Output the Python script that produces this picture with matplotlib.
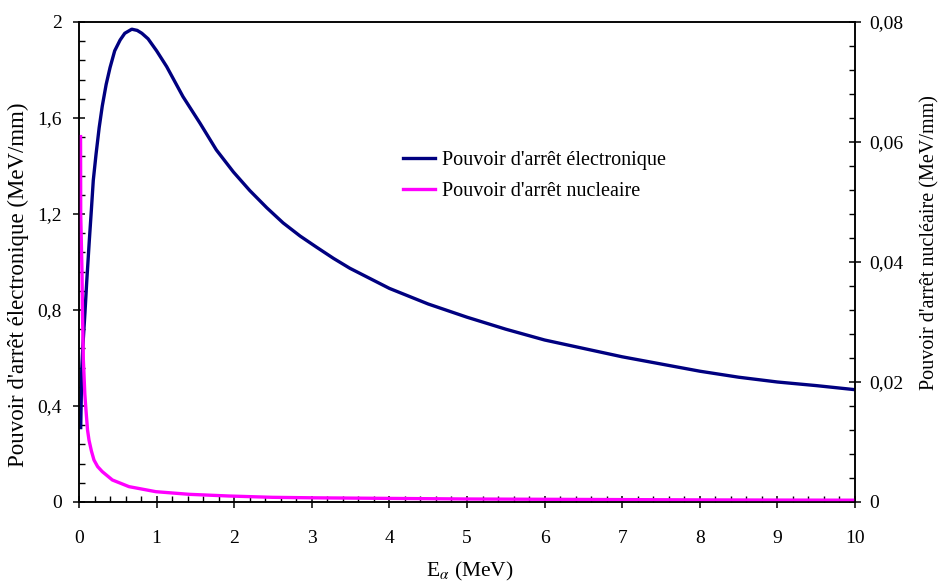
import matplotlib
matplotlib.use("Agg")
import matplotlib.pyplot as plt
from matplotlib.ticker import MultipleLocator, FixedLocator, FixedFormatter

# ---- data ----
x_elec = [0.022, 0.03, 0.035, 0.05, 0.077, 0.1, 0.133, 0.16, 0.184, 0.22, 0.26, 0.30,
          0.35, 0.40, 0.46, 0.53, 0.59, 0.68, 0.75, 0.81, 0.89, 1.0, 1.13, 1.34,
          1.56, 1.77, 1.99, 2.2, 2.42, 2.63, 2.85, 3.06, 3.28, 3.49, 4.0, 4.5, 5.0,
          5.5, 6.0, 6.5, 7.0, 7.5, 8.0, 8.5, 9.0, 9.5, 10.0]
y_elec = [0.31, 0.45, 0.55, 0.65, 0.79, 0.92, 1.09, 1.22, 1.34, 1.45, 1.56, 1.65,
          1.74, 1.81, 1.88, 1.925, 1.953, 1.97, 1.965, 1.953, 1.93, 1.88, 1.814, 1.689,
          1.578, 1.467, 1.375, 1.298, 1.226, 1.163, 1.108, 1.062, 1.015, 0.974, 0.89, 0.825, 0.77,
          0.72, 0.675, 0.64, 0.605, 0.575, 0.545, 0.52, 0.50, 0.485, 0.468]

x_nucl = [0.02, 0.022, 0.039, 0.045, 0.056, 0.075, 0.09, 0.11, 0.129, 0.16, 0.193,
          0.24, 0.30, 0.43, 0.644, 0.99, 1.42, 1.93, 2.49, 3.0, 4.0, 5.0, 6.0, 7.0,
          8.0, 9.0, 10.0]
y_nucl = [0.0609, 0.048, 0.0381, 0.0314, 0.0237, 0.018, 0.0153, 0.012, 0.0103, 0.0085,
          0.007, 0.0059, 0.00506, 0.00367, 0.00256, 0.00172, 0.00128, 0.0010, 0.00078,
          0.0007, 0.0006, 0.0005, 0.00045, 0.0004, 0.00035, 0.00032, 0.0003]

left_ticks = [0, 0.4, 0.8, 1.2, 1.6, 2.0]
left_labels = ["0", "0,4", "0,8", "1,2", "1,6", "2"]
right_ticks = [0, 0.02, 0.04, 0.06, 0.08]
right_labels = ["0", "0,02", "0,04", "0,06", "0,08"]
x_ticks = list(range(0, 11))
x_labels = [str(v) for v in x_ticks]

plt.rcParams['font.family'] = ['Liberation Serif', 'DejaVu Serif']
plt.rcParams['mathtext.fontset'] = 'stix'

W, H = 943, 584
fig = plt.figure(figsize=(W/100, H/100), dpi=100)
ax = fig.add_axes([79/W, 1-502/H, (855-79)/W, (502-22)/H])
ax2 = ax.twinx()

l1, = ax.plot(x_elec, y_elec, color='#000080', lw=2.4, label="Pouvoir d'arrêt électronique")
l2, = ax2.plot(x_nucl, y_nucl, color='#FF00FF', lw=2.4, label="Pouvoir d'arrêt nucleaire")

ax.set_xlim(0, 10)
ax.set_ylim(0, 2)
ax2.set_ylim(0, 0.08)

fs = 14
ax.xaxis.set_major_locator(FixedLocator(x_ticks))
ax.xaxis.set_major_formatter(FixedFormatter(x_labels))
ax.xaxis.set_minor_locator(MultipleLocator(0.2))
ax.yaxis.set_major_locator(FixedLocator(left_ticks))
ax.yaxis.set_major_formatter(FixedFormatter(left_labels))
ax.yaxis.set_minor_locator(MultipleLocator(0.08))
ax2.yaxis.set_major_locator(FixedLocator(right_ticks))
ax2.yaxis.set_major_formatter(FixedFormatter(right_labels))
ax2.yaxis.set_minor_locator(MultipleLocator(0.004))

for a in (ax, ax2):
    for s in a.spines.values():
        s.set_linewidth(1.1)
ax.tick_params(axis='both', which='major', direction='inout', length=9, width=1.1,
               labelsize=fs, top=False, right=False)
ax.tick_params(axis='y', which='major', pad=8)
ax.tick_params(axis='x', which='major', pad=16)
ax.tick_params(axis='both', which='minor', direction='in', length=4.5, width=1.0,
               top=False, right=False)
ax2.tick_params(axis='y', which='major', direction='inout', length=9, width=1.1,
                labelsize=fs, pad=6)
ax2.tick_params(axis='y', which='minor', direction='in', length=4.5, width=1.0)

ax.set_xlabel(r"E$_{\alpha}$ (MeV)", fontsize=15.5)
ax.xaxis.set_label_coords((470-79)/776, -(571-502)/480)
ax.set_ylabel("Pouvoir d'arrêt électronique (MeV/mm)", fontsize=16.5)
ax.yaxis.set_label_coords((18-79)/776, (502-285)/480)
ax2.set_ylabel("Pouvoir d'arrêt nucléaire (MeV/mm)", fontsize=14.5)
ax2.yaxis.set_label_coords((930-79)/776, (502-243)/480)
ax.yaxis.label.set_va('center')
ax2.yaxis.label.set_va('center')
ax.xaxis.label.set_va('center')

leg = ax2.legend(handles=[l1, l2], loc='upper left',
                 bbox_to_anchor=(403/W, 1-151/H), bbox_transform=fig.transFigure,
                 frameon=False, fontsize=14.5, handlelength=1.6, handletextpad=0.35,
                 labelspacing=0.6, borderpad=0, borderaxespad=0)

fig.savefig("out.png", dpi=100)
